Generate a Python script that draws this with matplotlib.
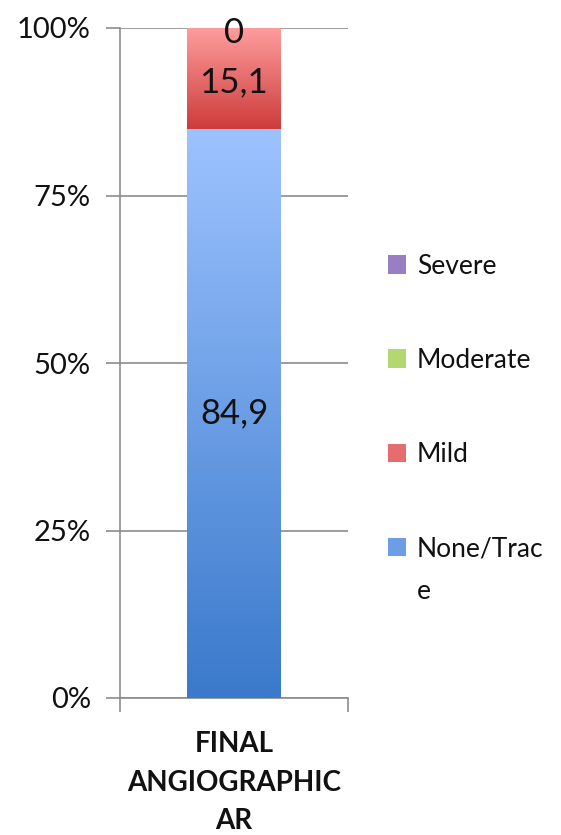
import numpy as np
import matplotlib
matplotlib.use("Agg")
import matplotlib.pyplot as plt
from matplotlib.colors import LinearSegmentedColormap
from matplotlib.patches import Patch
from matplotlib.ticker import FuncFormatter

plt.rcParams['font.family'] = ['Lato', 'DejaVu Sans']

category = "FINAL\nANGIOGRAPHIC\nAR"
series = ["None/Trace", "Mild", "Moderate", "Severe"]
# the first legend entry wraps onto a second line
legend_labels = ["None/Trac", "Mild", "Moderate", "Severe"]
legend_wrap = "e"
values = [84.9, 15.1, 0.0, 0.0]
value_labels = ["84,9", "15,1", "0", "0"]
yticks = [0, 25, 50, 75, 100]

# gradient (top colour, bottom colour) for each series
gradients = [("#9dc3ff", "#3a79cb"),
             ("#ff9e9e", "#cd3b3b"),
             ("#d9f5a0", "#8cbb45"),
             ("#c3a8e8", "#7054a0")]

fig = plt.figure(figsize=(5.61, 8.35), dpi=100)
ax = fig.add_axes([120/561, 1-698/835, 228/561, 670/835])

bar_w = 0.41
bottom = 0.0
for name, val, (ctop, cbot) in zip(series, values, gradients):
    bars = ax.bar(0, val, width=bar_w, bottom=bottom, color=cbot,
                  edgecolor='none', zorder=3)
    patch = bars[0]
    if val > 0:
        cmap = LinearSegmentedColormap.from_list(name, [cbot, ctop])
        grad = np.linspace(0, 1, 256).reshape(-1, 1)
        im = ax.imshow(grad, cmap=cmap, aspect='auto', origin='lower',
                       extent=(-bar_w/2, bar_w/2, bottom, bottom + val),
                       zorder=4)
        im.set_clip_path(patch)
    bottom += val

# value labels
lab_kw = dict(ha='center', va='center', fontsize=25, color='#111111', zorder=6)
ax.text(0, values[0] / 2, value_labels[0], **lab_kw)
ax.text(0, values[0] + values[1] / 2 - 0.5, value_labels[1], **lab_kw)
ax.text(0, 99.3, value_labels[2], **lab_kw)

ax.set_xlim(-0.5, 0.5)
ax.set_ylim(0, 100)
ax.set_yticks(yticks)
ax.yaxis.set_major_formatter(FuncFormatter(lambda v, p: f"{int(v)}%"))
ax.grid(axis='y', color='#8c8c8c', linewidth=1.2, zorder=0)
ax.tick_params(axis='y', length=10, width=1.2, color='#8c8c8c',
               labelsize=21, pad=11, labelcolor='#111111')

ax.set_xticks([-0.5, 0.5])
ax.set_xticklabels(["", ""])
ax.tick_params(axis='x', which='major', length=10, width=1.2,
               color='#8c8c8c')
ax.set_xticks([0], minor=True)
ax.set_xticklabels([category], minor=True, fontweight='bold', fontsize=20,
                   color='#111111', linespacing=1.58)
ax.tick_params(axis='x', which='minor', length=0, pad=24)

for s in ['top', 'right']:
    ax.spines[s].set_visible(False)
for s in ['left', 'bottom']:
    ax.spines[s].set_color('#8c8c8c')
    ax.spines[s].set_linewidth(1.2)
ax.set_axisbelow(True)

handles = [Patch(facecolor=np.mean([matplotlib.colors.to_rgb(c) for c in g], axis=0),
                 edgecolor='none') for g in gradients]
leg = fig.legend(handles[::-1], legend_labels[::-1], loc='upper left',
                 bbox_to_anchor=(364/561, 1-230/835), frameon=False,
                 fontsize=19, labelspacing=2.62, handlelength=0.7,
                 handleheight=0.7, handletextpad=0.4, labelcolor='#111111')
fig.canvas.draw()
first_text = leg.get_texts()[-1]
fig.text(0, 0, legend_wrap, fontsize=19, color='#111111', ha='left',
         va='baseline')
bb = first_text.get_window_extent()
fig.texts[-1].set_position((bb.x0 / fig.bbox.width,
                            (bb.y0 - 38) / fig.bbox.height))

fig.savefig("out.png", dpi=100)
